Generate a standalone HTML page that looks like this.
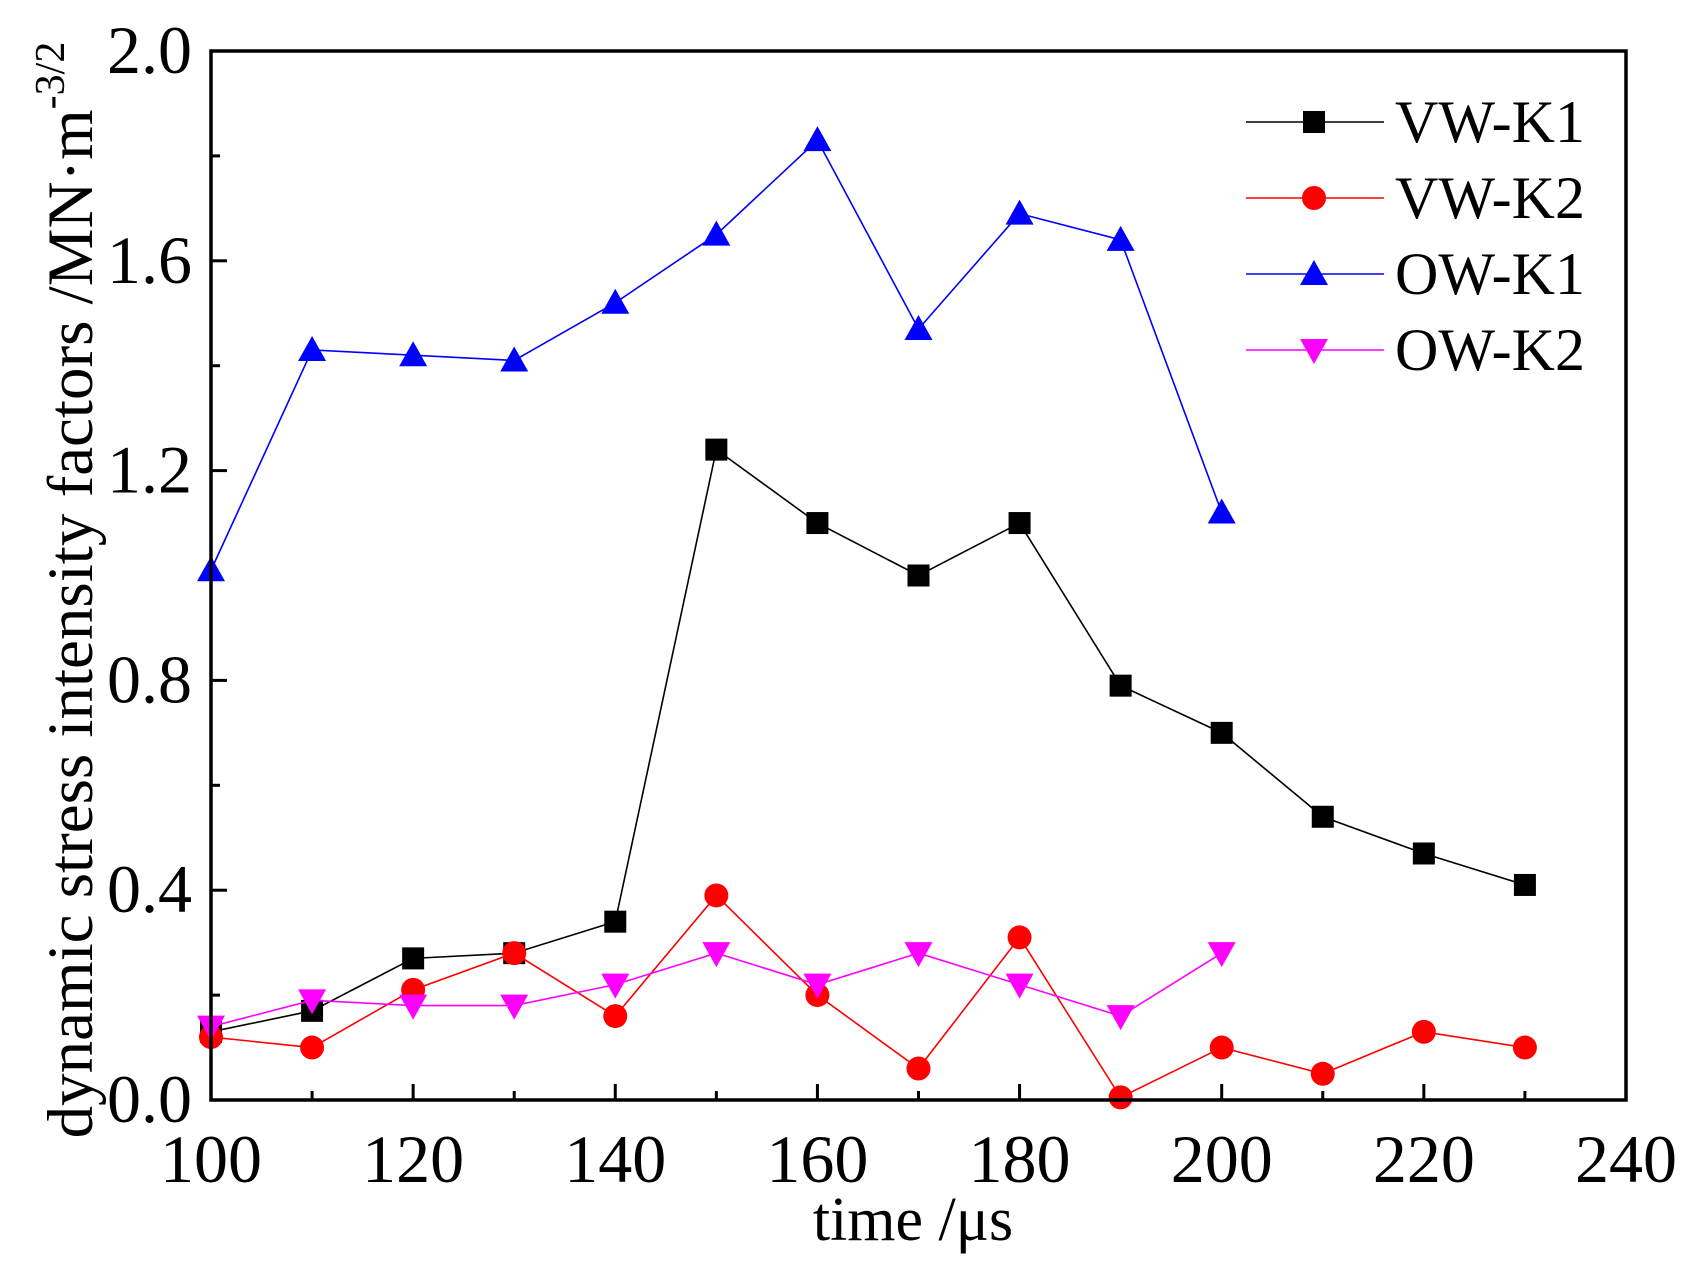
<!DOCTYPE html>
<html><head><meta charset="utf-8"><style>
html,body{margin:0;padding:0;background:#fff;}
svg{display:block;font-family:"Liberation Serif",serif;}
</style></head><body>
<svg id="s" width="1700" height="1280" viewBox="0 0 1700 1280" xmlns="http://www.w3.org/2000/svg">
<rect width="1700" height="1280" fill="#fff"/>
<g id="g"></g>
<rect x="211" y="51" width="1415" height="1049" fill="none" stroke="#000" stroke-width="3.5"/>
</svg>
<script>
var NS="http://www.w3.org/2000/svg",g=document.getElementById('g');
function X(t){return 211+(t-100)*10.107;}
function Y(v){return 1100-v*524.5;}
function el(n,a,txt){var e=document.createElementNS(NS,n);for(var k in a)e.setAttribute(k,a[k]);if(txt!=null)e.textContent=txt;g.appendChild(e);return e;}
for(var t=100;t<=240;t+=10){var x=X(t),L=(t%20==0)?16:9;el('line',{x1:x,y1:1100,x2:x,y2:1100-L,stroke:'#000','stroke-width':3});
 if(t%20==0)el('text',{x:x,y:1182,'font-size':68,'text-anchor':'middle'},String(t));}
for(var i=0;i<=10;i++){var v=i*0.2,y=Y(v),L=(i%2==0)?16:9;el('line',{x1:211,y1:y,x2:211+L,y2:y,stroke:'#000','stroke-width':3});
 if(i%2==0)el('text',{x:192,y:y+22,'font-size':68,'text-anchor':'end'},v.toFixed(1));}
el('text',{x:913,y:1240,'font-size':62,'text-anchor':'middle'},'time /\u03bcs');
var tt=el('text',{transform:'translate(92,590) rotate(-90)','font-size':65,'text-anchor':'middle'},'dynamic stress intensity factors /MN\u00b7m');
var sp=document.createElementNS(NS,'tspan');sp.setAttribute('dy','-28');sp.setAttribute('font-size','42');sp.textContent='-3/2';tt.appendChild(sp);
function mark(type,x,y,c){
 if(type=='sq')el('rect',{x:x-11,y:y-11,width:22,height:22,fill:c});
 else if(type=='ci')el('circle',{cx:x,cy:y,r:12,fill:c});
 else if(type=='up')el('polygon',{points:(x)+','+(y-14)+' '+(x-14)+','+(y+11)+' '+(x+14)+','+(y+11),fill:c});
 else el('polygon',{points:(x)+','+(y+14)+' '+(x-14)+','+(y-11)+' '+(x+14)+','+(y-11),fill:c});}
var S=[
 ['#000','sq',[0.13,0.17,0.27,0.28,0.34,1.24,1.10,1.00,1.10,0.79,0.70,0.54,0.47,0.41]],
 ['#ff0000','ci',[0.12,0.10,0.21,0.28,0.16,0.39,0.20,0.06,0.31,0.005,0.10,0.05,0.13,0.10]],
 ['#0000ff','up',[1.01,1.43,1.42,1.41,1.52,1.65,1.83,1.47,1.69,1.64,1.12]],
 ['#ff00ff','dn',[0.14,0.19,0.18,0.18,0.22,0.28,0.22,0.28,0.22,0.16,0.28]]];
var names=['VW-K1','VW-K2','OW-K1','OW-K2'];
S.forEach(function(s,k){var p=s[2].map(function(v,i){return X(100+10*i)+','+Y(v);}).join(' ');
 el('polyline',{points:p,fill:'none',stroke:s[0],'stroke-width':1.6});
 s[2].forEach(function(v,i){mark(s[1],X(100+10*i),Y(v),s[0]);});
 var ly=122+k*76;
 el('line',{x1:1246,y1:ly,x2:1384,y2:ly,stroke:s[0],'stroke-width':1.6});
 mark(s[1],1314,ly,s[0]);
 el('text',{x:1395,y:ly+20,'font-size':60},names[k]);});
</script>
</body></html>
